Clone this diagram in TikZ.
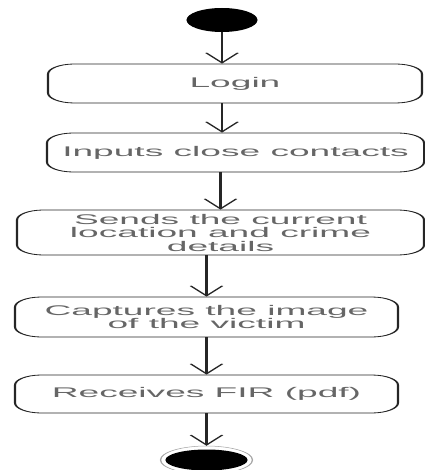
\documentclass[tikz,border=0pt]{standalone}
\usepackage{fontspec}
\newfontfamily\actfont{Liberation Sans}
\usetikzlibrary{arrows.meta}
\usetikzlibrary{shapes.geometric}

\tikzset{
  activity/.style={draw=black!85, line width=0.8pt, rounded corners=10pt,
    inner sep=0pt, align=center, text=black!60,
    font=\actfont\fontsize{14}{13.5}\selectfont},
  flow/.style={draw=black!85, line width=0.8pt,
    -{Straight Barb[length=10pt,width=12pt]}},
}

\begin{document}
\begin{tikzpicture}[x=1pt, y=-1pt]
    \useasboundingbox (0,0) rectangle (424,470);

    \begin{scope}[x=0.37736pt, transform canvas={xscale=2.65}]
        \node[ellipse, fill=black, inner sep=0pt, minimum width=26.8pt, minimum height=24pt] (start) at (222,20) {};

        \node[activity, minimum width=141.1pt, minimum height=39pt] (login) at (235,83.5) {Login};
        \node[activity, minimum width=142.3pt, minimum height=39pt] (inputs) at (235.5,152.5) {Inputs close contacts};
        \node[activity, minimum width=153.6pt, minimum height=45pt] (sends) at (220.5,232.5) {Sends the current\\location and crime\\details};
        \node[activity, minimum width=144.5pt, minimum height=40pt] (capture) at (206.5,317) {Captures the image\\of the victim};
        \node[activity, minimum width=144.5pt, minimum height=38pt] (receive) at (206.5,394) {Receives FIR (pdf)};

        \node[ellipse, draw=black!35, line width=0.5pt, inner sep=0pt, minimum width=34.7pt, minimum height=28pt] (end) at (206.5,460) {};
        \fill (end) ellipse [x radius=15.5pt, y radius=10.5pt];

        \draw[flow] (start) -- (start |- login.north);
        \draw[flow] (start |- login.south) -- (start |- inputs.north);
        \draw[flow] (sends |- inputs.south) -- (sends);
        \draw[flow] (capture |- sends.south) -- (capture);
        \draw[flow] (capture) -- (receive);
        \draw[flow] (receive) -- (end);
    \end{scope}
\end{tikzpicture}
\end{document}
